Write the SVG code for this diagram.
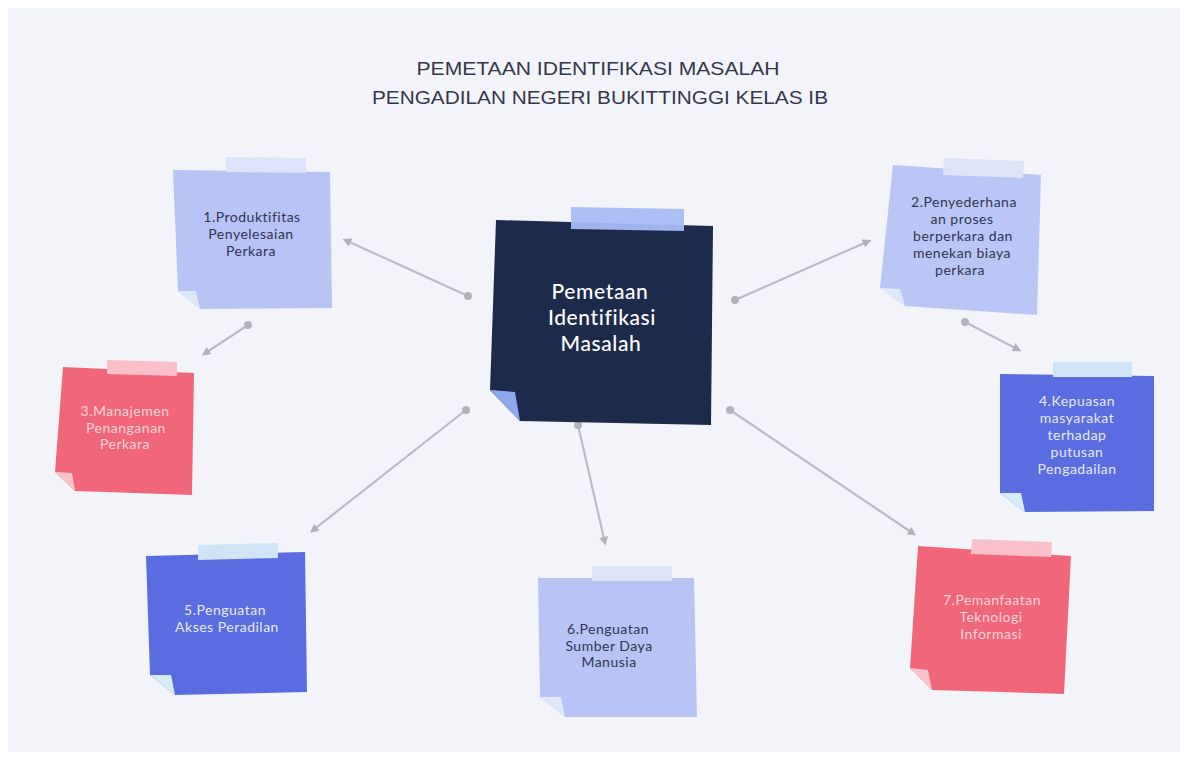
<svg xmlns="http://www.w3.org/2000/svg" width="1187" height="758" viewBox="0 0 1187 758">
<style>
.title{font-family:"Liberation Sans",Arial,sans-serif;font-size:18px;fill:#34374a;text-anchor:middle}
.t{font-family:Lato,"Noto Sans",sans-serif;font-size:14px;letter-spacing:0.5px;text-anchor:middle}
.dk{fill:#2e3452}
.lt{fill:#e6eaff}
.pk{fill:#fbd3d8}
.ct{font-family:Lato,"Noto Sans",sans-serif;font-size:21px;font-weight:500;letter-spacing:0.6px;fill:#ffffff;text-anchor:middle}
.conn line{stroke:#b9bcc6;stroke-width:2.2}
</style>
<defs>
<marker id="dot" viewBox="0 0 10 10" refX="5" refY="5" markerWidth="4" markerHeight="4" markerUnits="strokeWidth">
<circle cx="5" cy="5" r="4.5" fill="#b0b3bd"/>
</marker>
<marker id="arr" viewBox="0 0 10 10" refX="7" refY="5" markerWidth="4" markerHeight="4" orient="auto" markerUnits="strokeWidth">
<path d="M0,0 L10,5 L0,10 z" fill="#b0b3bd"/>
</marker>
</defs>
<rect width="1187" height="758" fill="#ffffff"/>
<rect x="8" y="8" width="1172" height="744" fill="#f2f4f9"/>
<g id="title">
<text class="title" x="598" y="75" textLength="363" lengthAdjust="spacingAndGlyphs">PEMETAAN IDENTIFIKASI MASALAH</text>
<text class="title" x="600" y="104" textLength="456" lengthAdjust="spacingAndGlyphs">PENGADILAN NEGERI BUKITTINGGI KELAS IB</text>
</g>
<g class="conn" id="connectors">
<line x1="468" y1="296" x2="345" y2="240" marker-start="url(#dot)" marker-end="url(#arr)"/>
<line x1="248" y1="325" x2="204" y2="354" marker-start="url(#dot)" marker-end="url(#arr)"/>
<line x1="735" y1="300" x2="869" y2="241" marker-start="url(#dot)" marker-end="url(#arr)"/>
<line x1="965" y1="322" x2="1019" y2="350" marker-start="url(#dot)" marker-end="url(#arr)"/>
<line x1="466" y1="410" x2="312" y2="531" marker-start="url(#dot)" marker-end="url(#arr)"/>
<line x1="578" y1="425" x2="605" y2="543" marker-start="url(#dot)" marker-end="url(#arr)"/>
<line x1="730" y1="410" x2="914" y2="534" marker-start="url(#dot)" marker-end="url(#arr)"/>
</g>
<g id="center">
<polygon points="496,220 713,226 711,425 520,421 490,390" fill="#1c2a4b"/>
<polygon points="490,390 515,392 520,421" fill="#8ea8ee"/>
<polygon points="571,207 684,209 684,231 571,229" fill="#a8bcf4" opacity="0.95"/>
<text class="ct" x="600" y="299">Pemetaan</text>
<text class="ct" x="602" y="325">Identifikasi</text>
<text class="ct" x="601" y="351">Masalah</text>
</g>
<g id="n1">
<polygon points="173,170 330,172 332,308 200,309 178,291" fill="#b8c3f6"/>
<polygon points="178,291 196,291 200,309" fill="#dfe8f8"/>
<polygon points="226,157 306,158 306,173 226,172" fill="#dce3fa"/>
<text class="t dk" x="252" y="222">1.Produktifitas</text>
<text class="t dk" x="251" y="239">Penyelesaian</text>
<text class="t dk" x="251" y="256">Perkara</text>
</g>
<g id="n2">
<polygon points="893,165 1041,175 1037,315 905,306 880,288" fill="#bac6f6"/>
<polygon points="880,288 900,289 905,306" fill="#dfe8f8"/>
<polygon points="944,158 1024,161 1023,178 943,175" fill="#dde3f8"/>
<text class="t dk" x="964" y="207">2.Penyederhana</text>
<text class="t dk" x="962" y="224">an proses</text>
<text class="t dk" x="963" y="241">berperkara dan</text>
<text class="t dk" x="962" y="258">menekan biaya</text>
<text class="t dk" x="960" y="275">perkara</text>
</g>
<g id="n3">
<polygon points="63,367 194,373 192,495 75,491 55,472" fill="#f06779"/>
<polygon points="55,472 72,473 75,491" fill="#f7c4cc"/>
<polygon points="107,360 177,362 177,376 107,374" fill="#f9c0c9"/>
<text class="t pk" x="125" y="416">3.Manajemen</text>
<text class="t pk" x="126" y="433">Penanganan</text>
<text class="t pk" x="125" y="449">Perkara</text>
</g>
<g id="n4">
<polygon points="1000,374 1154,376 1154,511 1025,512 1000,493" fill="#5a6de0"/>
<polygon points="1000,493 1021,493 1025,512" fill="#d7ecf9"/>
<polygon points="1053,362 1132,362 1132,377 1053,377" fill="#cfe4f7"/>
<text class="t lt" x="1077" y="406">4.Kepuasan</text>
<text class="t lt" x="1077" y="423">masyarakat</text>
<text class="t lt" x="1077" y="440">terhadap</text>
<text class="t lt" x="1077" y="457">putusan</text>
<text class="t lt" x="1077" y="474">Pengadailan</text>
</g>
<g id="n5">
<polygon points="146,556 305,552 307,692 175,695 150,675" fill="#5a6de0"/>
<polygon points="150,675 171,675 175,695" fill="#d7ecf9"/>
<polygon points="198,545 278,543 278,558 198,560" fill="#cfe4f7"/>
<text class="t lt" x="225" y="615">5.Penguatan</text>
<text class="t lt" x="227" y="632">Akses Peradilan</text>
</g>
<g id="n6">
<polygon points="538,578 694,578 697,717 565,717 540,697" fill="#b8c3f6"/>
<polygon points="540,697 561,697 565,717" fill="#dfe8f8"/>
<polygon points="592,566 672,566 672,581 592,581" fill="#dde3f8"/>
<text class="t dk" x="608" y="634">6.Penguatan</text>
<text class="t dk" x="609" y="651">Sumber Daya</text>
<text class="t dk" x="609" y="667">Manusia</text>
</g>
<g id="n7">
<polygon points="918,546 1071,556 1064,694 932,690 910,668" fill="#f06779"/>
<polygon points="910,668 928,670 932,690" fill="#f7c4cc"/>
<polygon points="972,539 1052,542 1051,557 971,554" fill="#f9c0c9"/>
<text class="t pk" x="992" y="605">7.Pemanfaatan</text>
<text class="t pk" x="991" y="622">Teknologi</text>
<text class="t pk" x="991" y="639">Informasi</text>
</g>
</svg>
